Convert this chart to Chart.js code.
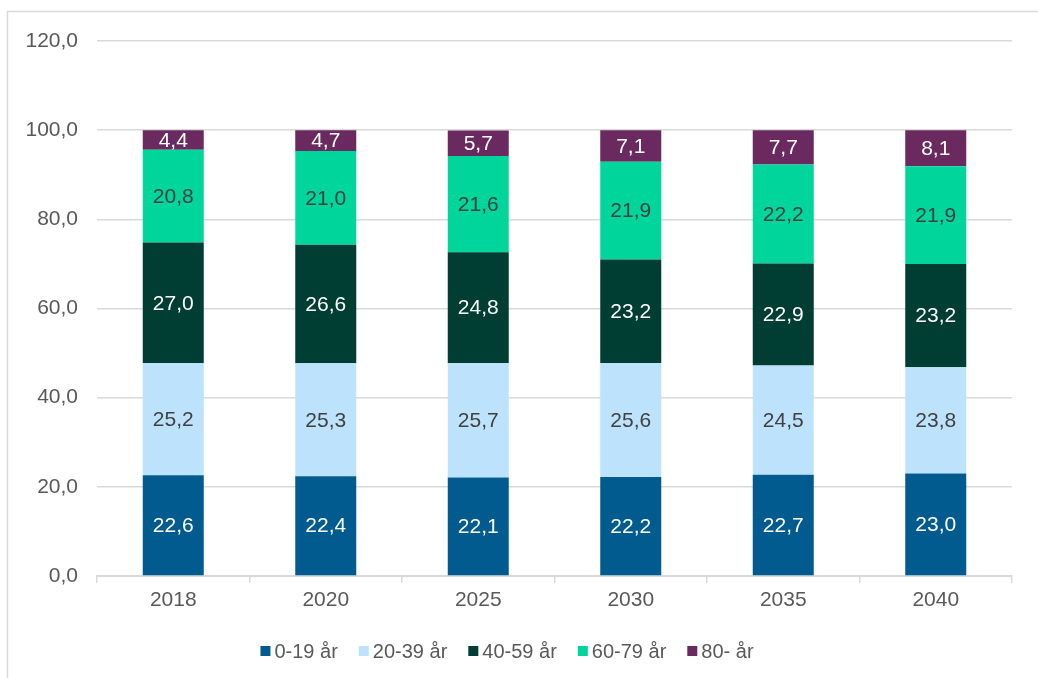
<!DOCTYPE html>
<html>
<head>
<meta charset="utf-8">
<script src="https://cdn.jsdelivr.net/npm/chart.js@4/dist/chart.umd.min.js"></script>
<style>
  html, body { margin: 0; padding: 0; background: #ffffff; }
  #wrap { width: 1038px; height: 678px; }
</style>
</head>
<body>
<div id="wrap"><canvas id="c" width="1038" height="678"></canvas></div>
<script>
// Population share by age group (%), per year
const years = ['2018', '2020', '2025', '2030', '2035', '2040'];
const age0_19  = [22.6, 22.4, 22.1, 22.2, 22.7, 23.0];
const age20_39 = [25.2, 25.3, 25.7, 25.6, 24.5, 23.8];
const age40_59 = [27.0, 26.6, 24.8, 23.2, 22.9, 23.2];
const age60_79 = [20.8, 21.0, 21.6, 21.9, 22.2, 21.9];
const age80    = [4.4, 4.7, 5.7, 7.1, 7.7, 8.1];
const groupNames = ['0-19 år', '20-39 år', '40-59 år', '60-79 år', '80- år'];
const yTicks = [0, 20, 40, 60, 80, 100, 120];

const FONT = '"Liberation Sans", Arial, sans-serif';
const TEXT = '#595959';
const GRID = '#d9d9d9';

const fmt = v => v.toFixed(1).replace('.', ',');

const series = [age0_19, age20_39, age40_59, age60_79, age80];
const fills = ['#015b8e', '#bde3fc', '#003d33', '#00d69b', '#6a2a5f'];
const labelInk = ['#ffffff', '#404040', '#ffffff', '#404040', '#ffffff'];

// Light frame around the chart
const framePlugin = {
  id: 'frame',
  beforeDraw(chart) {
    const ctx = chart.ctx;
    ctx.save();
    ctx.strokeStyle = GRID;
    ctx.lineWidth = 1.5;
    ctx.beginPath();
    ctx.moveTo(7.5, chart.height + 2);
    ctx.lineTo(7.5, 11.5);
    ctx.lineTo(chart.width + 2, 11.5);
    ctx.stroke();
    ctx.restore();
  }
};

// Value labels centred inside each stacked segment
const segmentLabels = {
  id: 'segmentLabels',
  afterDatasetsDraw(chart) {
    const ctx = chart.ctx;
    ctx.save();
    ctx.font = '21px ' + FONT;
    ctx.textAlign = 'center';
    ctx.textBaseline = 'middle';
    chart.data.datasets.forEach((ds, i) => {
      const meta = chart.getDatasetMeta(i);
      meta.data.forEach((bar, j) => {
        ctx.fillStyle = labelInk[i];
        ctx.fillText(fmt(ds.data[j]), bar.x, (bar.y + bar.base) / 2 + 1);
      });
    });
    ctx.restore();
  }
};

// Compact legend row under the axis
const legendRow = {
  id: 'legendRow',
  afterDraw(chart) {
    const ctx = chart.ctx;
    ctx.save();
    ctx.font = '20px ' + FONT;
    ctx.textBaseline = 'middle';
    const box = 10, gapText = 4, gapItem = 21;
    const widths = chart.data.datasets.map(d => ctx.measureText(d.label).width);
    const total = widths.reduce((a, w) => a + box + gapText + w, 0) + gapItem * (widths.length - 1);
    let x = 507 - total / 2;
    const yMid = 651;
    chart.data.datasets.forEach((d, i) => {
      ctx.fillStyle = d.backgroundColor;
      ctx.fillRect(x, yMid - box / 2, box, box);
      x += box + gapText;
      ctx.fillStyle = TEXT;
      ctx.fillText(d.label, x, yMid + 1);
      x += widths[i] + gapItem;
    });
    ctx.restore();
  }
};

new Chart(document.getElementById('c'), {
  type: 'bar',
  data: {
    labels: years,
    datasets: series.map((data, i) => ({
      label: groupNames[i],
      data,
      backgroundColor: fills[i],
      borderWidth: 0,
      categoryPercentage: 1.0,
      barPercentage: 0.4
    }))
  },
  options: {
    responsive: false,
    animation: false,
    layout: { padding: { left: 0, right: 26, top: 41, bottom: 62 } },
    plugins: {
      legend: { display: false },
      tooltip: { enabled: false }
    },
    scales: {
      x: {
        stacked: true,
        grid: {
          display: true,
          offset: true,
          drawOnChartArea: false,
          drawTicks: true,
          tickLength: 7,
          color: GRID,
          lineWidth: 1.5
        },
        border: { display: true, color: GRID, width: 2 },
        ticks: { color: TEXT, font: { family: FONT, size: 21 }, padding: 5 },
        afterFit(scale) { scale.height = 40; }
      },
      y: {
        stacked: true,
        min: 0,
        max: 120,
        afterBuildTicks(scale) { scale.ticks = yTicks.map(v => ({ value: v })); },
        grid: { color: GRID, lineWidth: 1.5, drawTicks: false },
        border: { display: false },
        ticks: {
          color: TEXT,
          font: { family: FONT, size: 21 },
          padding: 19,
          callback: v => fmt(v)
        },
        afterFit(scale) { scale.width = 97; }
      }
    }
  },
  plugins: [framePlugin, segmentLabels, legendRow]
});
</script>
</body>
</html>
